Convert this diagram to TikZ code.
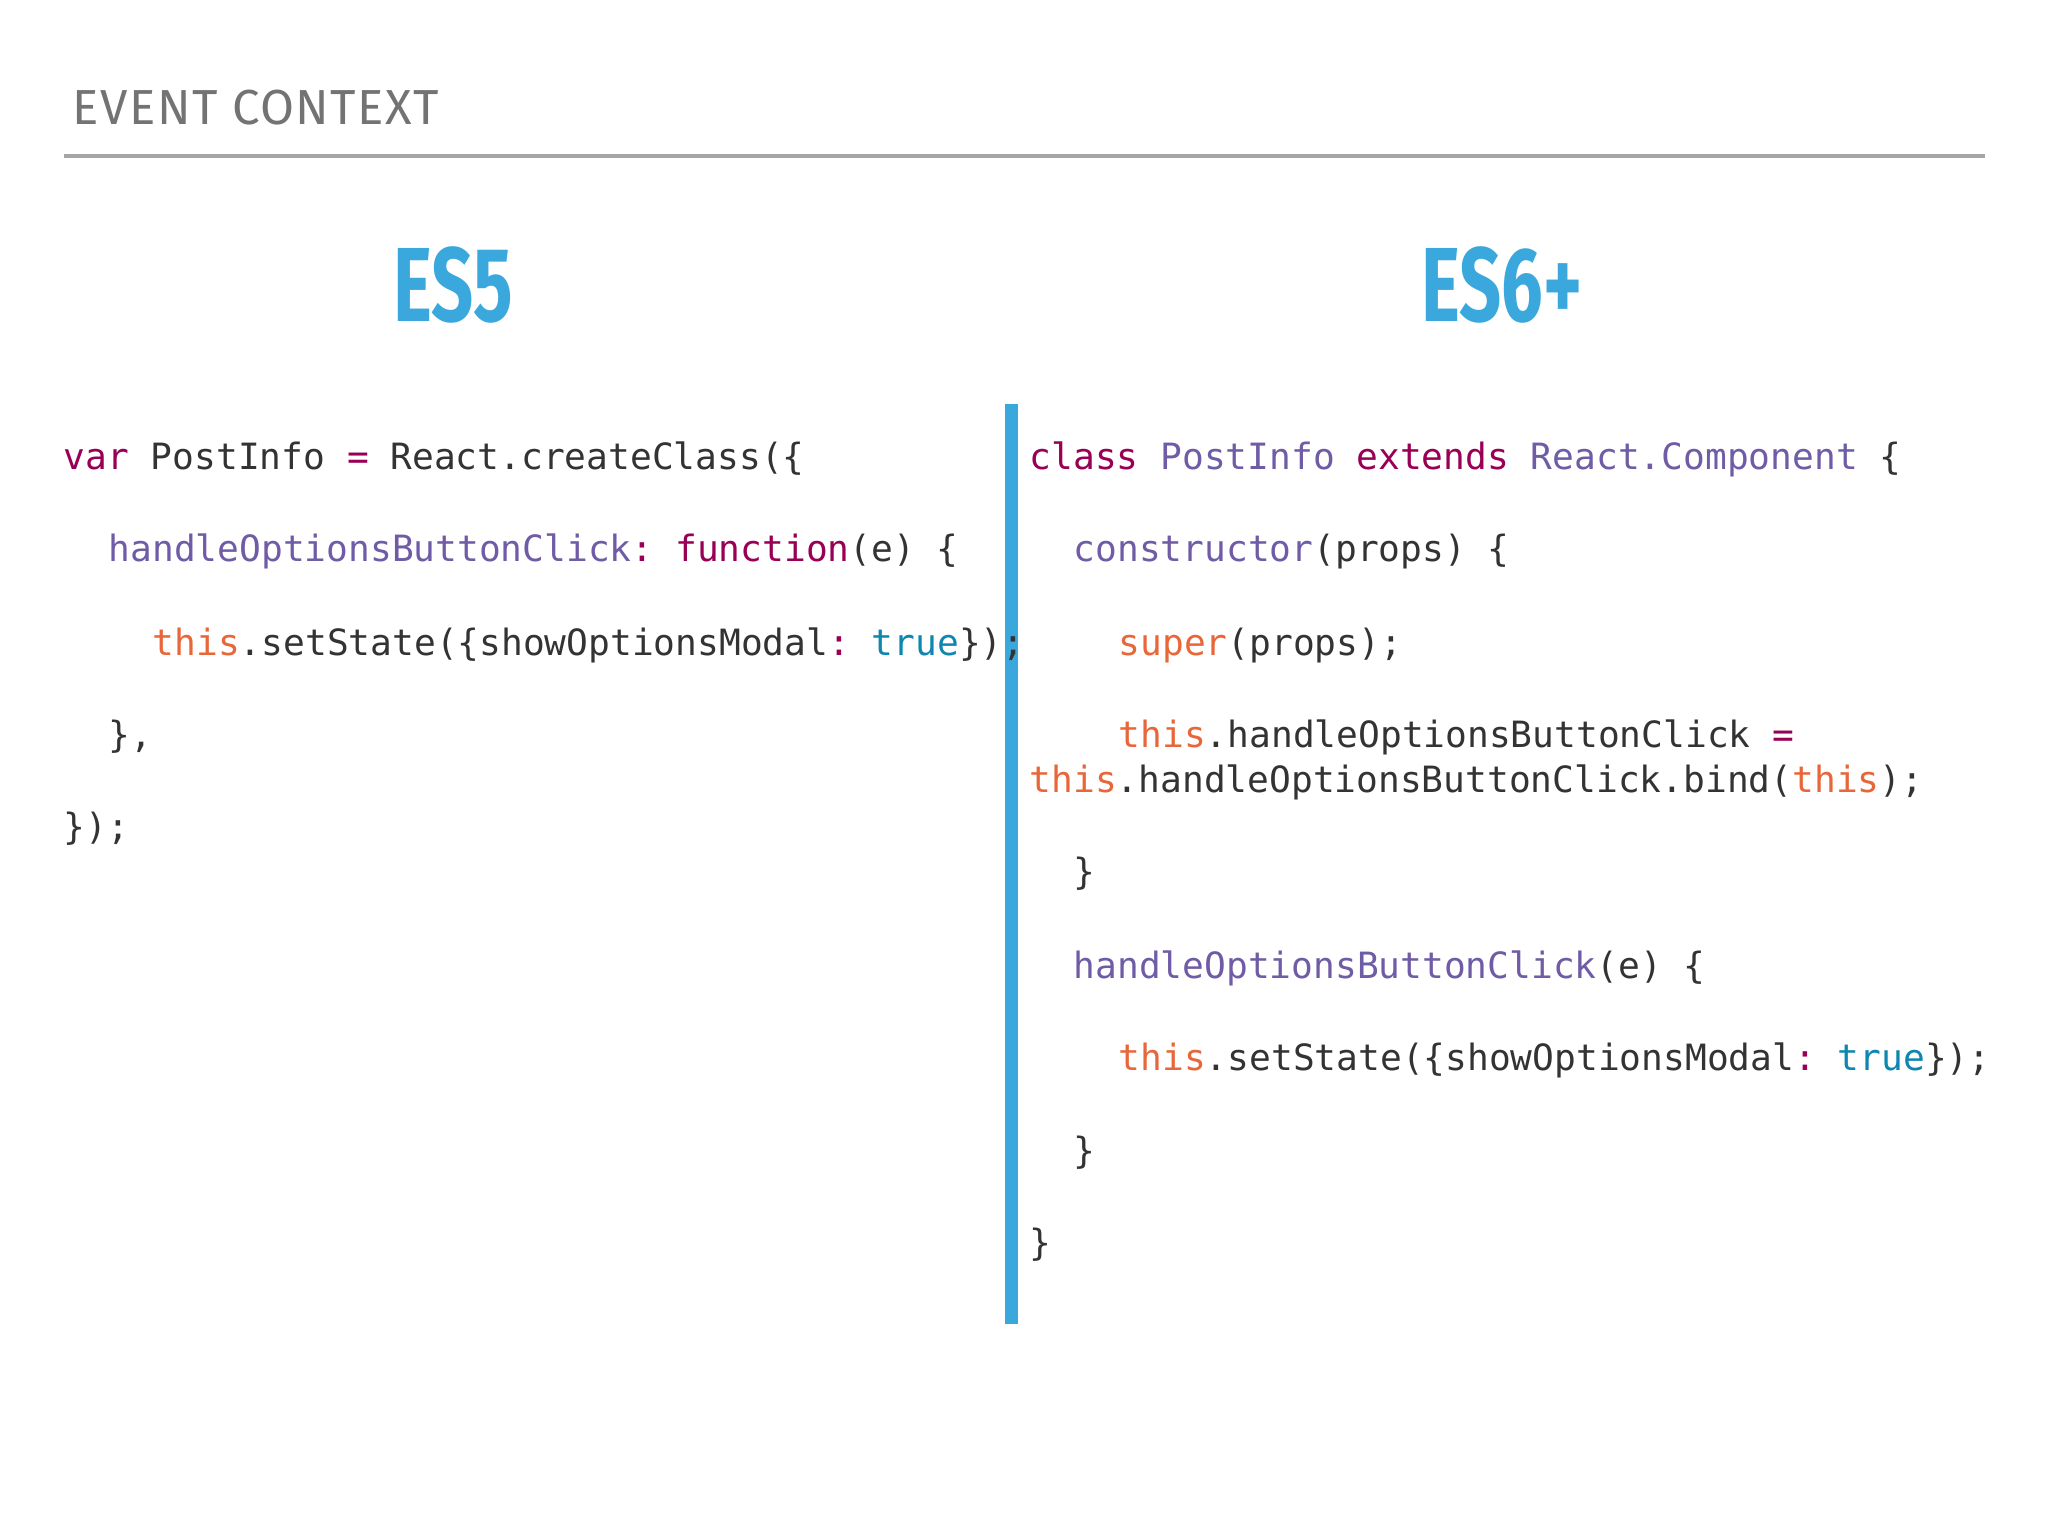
\documentclass[tikz,border=0pt]{standalone}
\usepackage{fontspec}
\setmainfont{Fira Sans}
\setmonofont{DejaVu Sans Mono}
\usetikzlibrary{positioning}
\definecolor{es}{HTML}{3AA8DC}
\definecolor{kwcol}{HTML}{990055}
\definecolor{fncol}{HTML}{6F5BA6}
\definecolor{slfcol}{HTML}{E8673A}
\definecolor{boocol}{HTML}{0E87B0}
\definecolor{txtcol}{HTML}{333333}
\newcommand{\kwd}[1]{\textcolor{kwcol}{#1}}
\newcommand{\fnc}[1]{\textcolor{fncol}{#1}}
\newcommand{\slf}[1]{\textcolor{slfcol}{#1}}
\newcommand{\boo}[1]{\textcolor{boocol}{#1}}
\tikzset{
  code/.style={anchor=base west, inner sep=0pt, text=txtcol,
    font=\ttfamily\fontsize{10.3pt}{12pt}\selectfont},
  head/.style={anchor=base, inner sep=0pt, text=es,
    font=\bfseries\fontsize{30pt}{32pt}\selectfont, xscale=0.7}
}
\begin{document}
\begin{tikzpicture}[x=1cm,y=-1cm]
\useasboundingbox (0,0) rectangle (20.48,15.36);
% Title and rule
        \node[anchor=base west, inner sep=0pt, text=black!55,
          font=\fontsize{14pt}{16pt}\selectfont] (title) at (0.72,1.25)
          {\addfontfeatures{LetterSpace=3}EVENT CONTEXT};
        \draw[black!35, line width=0.04cm] (0.64,1.56) coordinate (rl) -- (19.85,1.56) coordinate (rr);
% Headings
        \node[head] (es5) at (4.53,3.22) {ES5};
        \node[head] (es6) at (15.02,3.22) {ES6+};
% Divider
        \fill[es] (10.05,4.04) rectangle (10.18,13.24);
% ES5 code
        \node[code] (l1) at (0.63,4.70) {\kwd{var} PostInfo \kwd{=} React.createClass(\{};
        \node[code] (l2) at (1.08,5.62) {\fnc{handleOptionsButtonClick}\kwd{:} \kwd{function}(e) \{};
        \node[code] (l3) at (1.52,6.55) {\slf{this}.setState(\{showOptionsModal\kwd{:} \boo{true}\});};
        \node[code] (l4) at (1.08,7.47) {\},};
        \node[code] (l5) at (0.63,8.39) {\});};
% ES6 code
        \node[code] (r1) at (10.29,4.70) {\kwd{class} \fnc{PostInfo} \kwd{extends} \fnc{React.Component} \{};
        \node[code] (r2) at (10.73,5.62) {\fnc{constructor}(props) \{};
        \node[code] (r3) at (11.18,6.55) {\slf{super}(props);};
        \node[code] (r4) at (11.18,7.47) {\slf{this}.handleOptionsButtonClick \kwd{=}};
        \node[code] (r5) at (10.29,7.93) {\slf{this}.handleOptionsButtonClick.bind(\slf{this});};
        \node[code] (r6) at (10.73,8.85) {\}};
        \node[code] (r7) at (10.73,9.78) {\fnc{handleOptionsButtonClick}(e) \{};
        \node[code] (r8) at (11.18,10.70) {\slf{this}.setState(\{showOptionsModal\kwd{:} \boo{true}\});};
        \node[code] (r9) at (10.73,11.63) {\}};
        \node[code] (r10) at (10.29,12.55) {\}};
\end{tikzpicture}
\end{document}
